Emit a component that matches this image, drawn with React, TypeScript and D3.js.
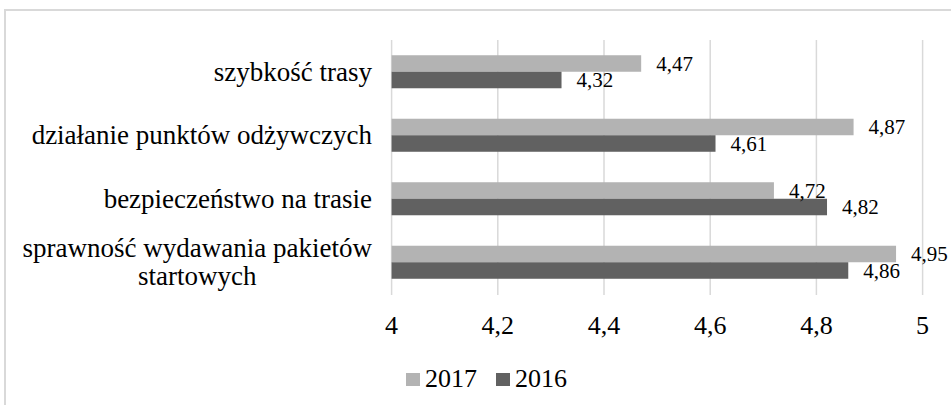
import React, { useEffect, useRef } from 'react';
import * as d3 from 'd3';

const categories = [
  'szybkość trasy',
  'działanie punktów odżywczych',
  'bezpieczeństwo na trasie',
  'sprawność wydawania pakietów startowych',
];
const series = ['2017', '2016'];
const values2017 = [4.47, 4.87, 4.72, 4.95];
const values2016 = [4.32, 4.61, 4.82, 4.86];
const ticks = [4, 4.2, 4.4, 4.6, 4.8, 5];

const colors: Record<string, string> = { '2017': '#b3b3b3', '2016': '#616161' };
const fmt = (v: number) => String(v).replace('.', ',');
const FONT = '"Liberation Serif", "Times New Roman", Times, "Nimbus Roman", "Nimbus Roman No9 L", FreeSerif, "Noto Serif", "DejaVu Serif", Tinos, serif';

const App = () => {
  const svgRef = useRef<SVGSVGElement>(null);

  useEffect(() => {
    const svg = d3.select(svgRef.current);
    svg.selectAll('*').remove();

    // chart frame
    svg.append('rect')
      .attr('x', 5).attr('y', 10)
      .attr('width', 960).attr('height', 410)
      .attr('fill', '#fff')
      .attr('stroke', '#d9d9d9')
      .attr('stroke-width', 2);

    const x = d3.scaleLinear().domain([4, 5]).range([391.6, 922.6]);
    const y = d3.scaleBand().domain(categories).range([40, 294])
      .paddingInner(0.48).paddingOuter(0.24);
    const ySub = d3.scaleBand().domain(series).range([0, y.bandwidth()]);

    // gridlines
    svg.append('g')
      .selectAll('line')
      .data(ticks)
      .join('line')
      .attr('x1', d => x(d)).attr('x2', d => x(d))
      .attr('y1', 40).attr('y2', 295)
      .attr('stroke', '#d9d9d9')
      .attr('stroke-width', 1.5);

    // tick labels
    svg.append('g')
      .selectAll('text')
      .data(ticks)
      .join('text')
      .attr('x', d => x(d))
      .attr('y', 334)
      .attr('text-anchor', 'middle')
      .style('font-family', FONT)
      .style('font-size', '26px')
      .text(d => fmt(d));

    const rows = categories.map((c, i) => ({
      c,
      vals: [
        { s: '2017', v: values2017[i] },
        { s: '2016', v: values2016[i] },
      ],
    }));

    const groups = svg.append('g')
      .selectAll('g')
      .data(rows)
      .join('g')
      .attr('transform', d => `translate(0,${y(d.c)})`);

    groups.selectAll('rect')
      .data(d => d.vals)
      .join('rect')
      .attr('x', x(4))
      .attr('y', d => ySub(d.s)!)
      .attr('width', d => x(d.v) - x(4))
      .attr('height', ySub.bandwidth())
      .attr('fill', d => colors[d.s]);

    groups.selectAll('text')
      .data(d => d.vals)
      .join('text')
      .attr('x', d => x(d.v) + 15)
      .attr('y', d => ySub(d.s)! + ySub.bandwidth() / 2)
      .attr('dy', '0.35em')
      .style('font-family', FONT)
      .style('font-size', '21px')
      .text(d => fmt(d.v));

    // category labels, wrapped like Excel
    const labelRight = 372;
    const catG = svg.append('g');
    const maxW = 350;
    categories.forEach(c => {
      const cy = y(c)! + y.bandwidth() / 2;
      const t = catG.append('text')
        .style('font-family', FONT)
        .style('font-size', '27px');
      const words = c.split(' ');
      const lines: string[] = [];
      let cur = '';
      words.forEach(w => {
        const test = cur ? cur + ' ' + w : w;
        t.text(test);
        if ((t.node() as SVGTextElement).getComputedTextLength() > maxW && cur) {
          lines.push(cur);
          cur = w;
        } else {
          cur = test;
        }
      });
      lines.push(cur);
      const widths = lines.map(l => {
        t.text(l);
        return (t.node() as SVGTextElement).getComputedTextLength();
      });
      t.text(null);
      const blockW = Math.max(...widths);
      const lh = 28;
      const base = cy + 9 - ((lines.length - 1) * lh) / 2;
      lines.forEach((l, i) => {
        t.append('tspan')
          .attr('x', lines.length > 1 ? labelRight - blockW / 2 : labelRight)
          .attr('y', base + i * lh)
          .attr('text-anchor', lines.length > 1 ? 'middle' : 'end')
          .text(l);
      });
    });

    // legend
    const legend = svg.append('g').attr('transform', 'translate(406,373)');
    let lx = 0;
    series.forEach(s => {
      const item = legend.append('g').attr('transform', `translate(${lx},0)`);
      item.append('rect')
        .attr('width', 14).attr('height', 13)
        .attr('fill', colors[s]);
      const txt = item.append('text')
        .attr('x', 19).attr('y', 14)
        .style('font-family', FONT)
        .style('font-size', '26px')
        .text(s);
      lx += 19 + (txt.node() as SVGTextElement).getComputedTextLength() + 19;
    });
  }, []);

  return (
    <svg
      ref={svgRef}
      width={951}
      height={405}
      style={{ position: 'absolute', left: 0, top: 0, background: '#fff', fontFamily: FONT }}
    />
  );
};

export default App;
